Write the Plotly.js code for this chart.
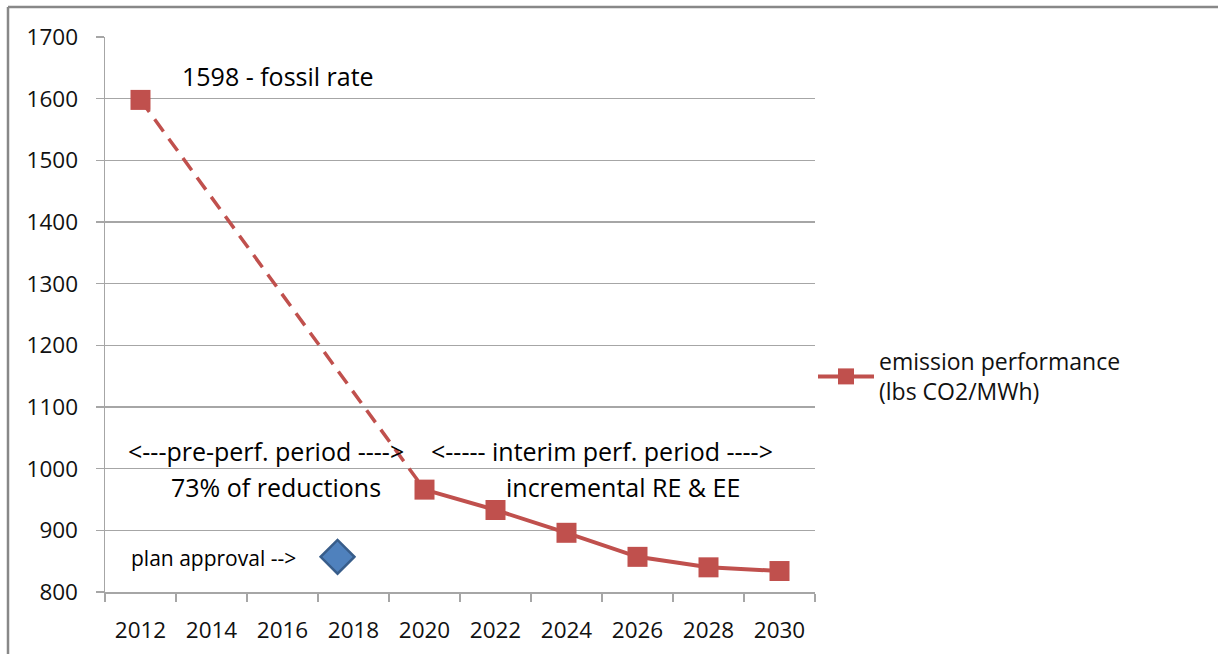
<!DOCTYPE html>
<html>
<head>
<meta charset="utf-8">
<script src="https://cdn.plot.ly/plotly-3.0.1.min.js"></script>
<style>html,body{margin:0;padding:0;background:#fff}#chart{width:1218px;height:654px}</style>
</head>
<body>
<div id="chart"></div>
<script>
// Data
const preYears = [2012, 2020];
const preValues = [1598, 966];
const years = [2012, 2020, 2022, 2024, 2026, 2028, 2030];
const values = [1598, 966, 933, 896, 857, 840, 834];
const solidYears = [2020, 2022, 2024, 2026, 2028, 2030];
const solidValues = [966, 933, 896, 857, 840, 834];
const approvalYear = [2017.55];
const approvalValue = [857];
const tickYears = [2012, 2014, 2016, 2018, 2020, 2022, 2024, 2026, 2028, 2030];
const boundaryYears = [2011, 2013, 2015, 2017, 2019, 2021, 2023, 2025, 2027, 2029, 2031];
const seriesName = 'emission performance<br>(lbs CO2/MWh)';

const red = '#C0504D';
const font = '"Open Sans", Lato, sans-serif';

const traces = [
  {
    x: preYears, y: preValues, type: 'scatter', mode: 'lines',
    line: {color: red, width: 3.5, dash: '15px,9px'},
    showlegend: false, hoverinfo: 'skip'
  },
  {
    x: solidYears, y: solidValues, type: 'scatter', mode: 'lines',
    line: {color: red, width: 4},
    showlegend: false, hoverinfo: 'skip'
  },
  {
    x: years, y: values, type: 'scatter', mode: 'markers',
    showlegend: false,
    marker: {symbol: 'square', size: 20, color: red, line: {color: red, width: 0}}
  },
  {
    x: approvalYear, y: approvalValue, type: 'scatter', mode: 'markers',
    marker: {symbol: 'diamond', size: 26, color: '#4F81BD', line: {color: '#385D8A', width: 2.5}},
    showlegend: false
  },
  // legend entry
  {
    x: [null], y: [null], type: 'scatter', mode: 'lines+markers',
    name: seriesName, showlegend: true,
    line: {color: red, width: 4},
    marker: {symbol: 'square', size: 20, color: red}
  }
];

const L = 105, R = 815, T = 37, B = 592, W = 1218, H = 654;
const pw = R - L, ph = B - T;
const px = v => (v - L) / pw;
const py = v => 1 - (v - T) / ph;

const layout = {
  width: W, height: H,
  margin: {l: L, r: W - R, t: T, b: H - B, pad: 0},
  paper_bgcolor: '#fff', plot_bgcolor: '#fff',
  font: {family: font, size: 25, color: '#000'},
  showlegend: true,
  xaxis: {
    range: [2011, 2031], tickvals: tickYears, ticktext: tickYears.map(String),
    ticks: 'outside', ticklen: 17, tickcolor: 'rgba(0,0,0,0)',
    showgrid: false, zeroline: false,
    showline: true, linecolor: '#a6a6a6', linewidth: 1.5,
    tickfont: {family: font, size: 22.5, color: '#111'},
    minor: {tickvals: boundaryYears, ticks: 'outside', ticklen: 8, tickcolor: '#a6a6a6', tickwidth: 1.5, showgrid: false},
    fixedrange: true
  },
  yaxis: {
    range: [800, 1700], dtick: 100, tick0: 800,
    ticks: 'outside', ticklen: 8, tickcolor: '#a6a6a6', tickwidth: 1.5,
    ticklabelstandoff: 13,
    showgrid: true, gridcolor: '#a6a6a6', gridwidth: 1.2,
    zeroline: false, showline: true, linecolor: '#a6a6a6', linewidth: 1.5,
    tickfont: {family: font, size: 22.5, color: '#111'},
    fixedrange: true
  },
  legend: {
    x: px(813), y: py(340), xanchor: 'left', yanchor: 'top',
    font: {family: font, size: 23, color: '#111'},
    itemwidth: 56, bgcolor: 'rgba(0,0,0,0)', tracegroupgap: 0
  },
  shapes: [
    {type: 'line', xref: 'paper', yref: 'paper', x0: px(8), x1: px(8), y0: py(660), y1: py(7), line: {color: '#888', width: 2.5}},
    {type: 'line', xref: 'paper', yref: 'paper', x0: px(8), x1: px(1225), y0: py(7), y1: py(7), line: {color: '#888', width: 2.5}}
  ],
  annotations: [
    {x: 2013.11, y: 1636, text: '1598 - fossil rate', xanchor: 'left', yanchor: 'middle', showarrow: false},
    {x: 2015.54, y: 1028, text: '&lt;---pre-perf. period ----&gt;', xanchor: 'center', yanchor: 'middle', showarrow: false},
    {x: 2015.83, y: 970, text: '73% of reductions', xanchor: 'center', yanchor: 'middle', showarrow: false},
    {x: 2024.99, y: 1028, text: '&lt;----- interim perf. period ----&gt;', xanchor: 'center', yanchor: 'middle', showarrow: false},
    {x: 2025.59, y: 970, text: 'incremental RE &amp; EE', xanchor: 'center', yanchor: 'middle', showarrow: false},
    {x: 2016.45, y: 855, text: 'plan approval --&gt;', xanchor: 'right', yanchor: 'middle', showarrow: false, font: {size: 21}},
    {x: 2031.56, y: 838, text: '834 - goal', xanchor: 'left', yanchor: 'middle', showarrow: false}
  ]
};

Plotly.newPlot('chart', traces, layout, {displayModeBar: false, staticPlot: true});
</script>
</body>
</html>
